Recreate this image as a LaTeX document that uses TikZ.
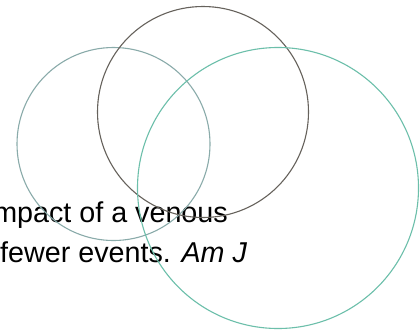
\documentclass[tikz,border=0pt]{standalone}
\usepackage{fontspec}
\setmainfont{Liberation Sans}
\definecolor{leftc}{HTML}{8AABAA}
\definecolor{topc}{HTML}{66625C}
\definecolor{rightc}{HTML}{6CBFAA}
\begin{document}
\begin{tikzpicture}[x=1pt,y=-1pt,
  ring/.style={line width=1.1pt},
  txt/.style={font=\fontsize{28.7}{34}\selectfont, inner sep=0pt, text=black}]
\useasboundingbox (0,0) rectangle (420,333);
\clip (0,0) rectangle (420,333);
\fill[white] (0,0) rectangle (420,333);
\node[txt, anchor=base east] (l1) at (228,222) {mpact of a venous};
\node[txt, anchor=base west] (l2) at (0,262) {fewer events. \textit{Am J}};
\draw[ring, leftc] (113.5,144) circle[radius=96.5];
\draw[ring, topc] (203,112) circle[radius=105.5];
\draw[ring, rightc] (278,188) circle[radius=140.5];
\end{tikzpicture}
\end{document}
